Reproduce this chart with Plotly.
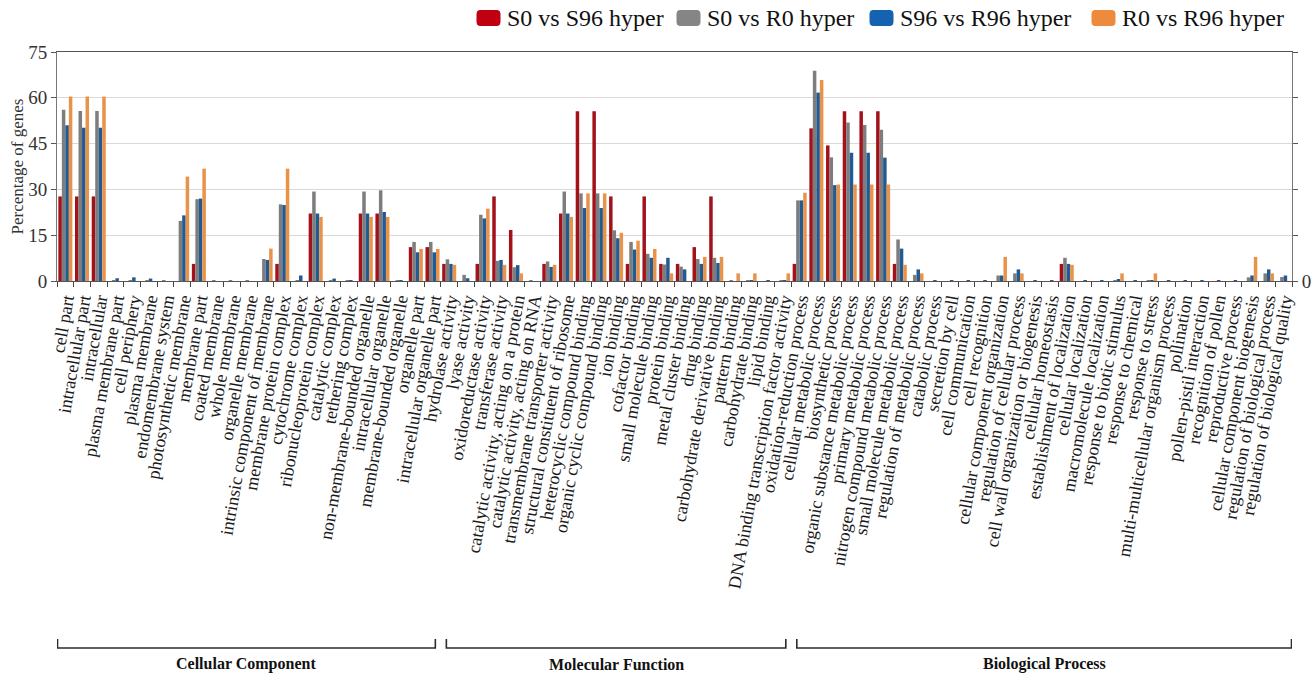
import plotly.graph_objects as go

categories = [
    "cell part", "intracellular part", "intracellular", "plasma membrane part",
    "cell periphery", "plasma membrane", "endomembrane system",
    "photosynthetic membrane", "membrane part", "coated membrane",
    "whole membrane", "organelle membrane", "intrinsic component of membrane",
    "membrane protein complex", "cytochrome complex",
    "ribonucleoprotein complex", "catalytic complex", "tethering complex",
    "non-membrane-bounded organelle", "intracellular organelle",
    "membrane-bounded organelle", "organelle part",
    "intracellular organelle part",
    "hydrolase activity", "lyase activity", "oxidoreductase activity",
    "transferase activity", "catalytic activity, acting on a protein",
    "catalytic activity, acting on RNA", "transmembrane transporter activity",
    "structural constituent of ribosome", "heterocyclic compound binding",
    "organic cyclic compound binding", "ion binding", "cofactor binding",
    "small molecule binding", "protein binding", "metal cluster binding",
    "drug binding", "carbohydrate derivative binding", "pattern binding",
    "carbohydrate binding", "lipid binding",
    "DNA binding transcription factor activity",
    "oxidation-reduction process", "cellular metabolic process",
    "biosynthetic process", "organic substance metabolic process",
    "primary metabolic process", "nitrogen compound metabolic process",
    "small molecule metabolic process", "regulation of metabolic process",
    "catabolic process", "secretion by cell", "cell communication",
    "cell recognition", "cellular component organization",
    "regulation of cellular process", "cell wall organization or biogenesis",
    "cellular homeostasis", "establishment of localization",
    "cellular localization", "macromolecule localization",
    "response to biotic stimulus", "response to chemical",
    "response to stress", "multi-multicellular organism process",
    "pollination", "pollen-pistil interaction", "recognition of pollen",
    "reproductive process", "cellular component biogenesis",
    "regulation of biological process", "regulation of biological quality",
]

s0_vs_s96 = [
    27.7, 27.7, 27.7, 0, 0, 0, 0, 0, 5.6, 0,
    0, 0, 0, 5.6, 0, 22.1, 0, 0, 22.1, 22.1,
    0, 11.1, 11.1,
    5.6, 0, 5.6, 27.7, 16.7, 0, 5.6, 22.1, 55.6, 55.6, 27.7,
    5.6, 27.7, 5.6, 5.6, 11.1, 27.7, 0, 0, 0, 0,
    5.6, 50.0, 44.4, 55.6, 55.6, 55.6, 5.6, 0, 0, 0,
    0, 0, 0, 0, 0, 0, 5.6, 0, 0, 0,
    0, 0, 0, 0, 0, 0, 0, 0, 0, 0,
]
s0_vs_r0 = [
    56.1, 55.7, 55.7, 0.3, 0.3, 0.3, 0.3, 19.7, 26.8, 0.3,
    0.3, 0.3, 7.2, 25.1, 0.3, 29.3, 0.3, 0.3, 29.3, 29.7,
    0.3, 12.8, 12.8,
    7.1, 2.0, 21.7, 6.6, 4.5, 0.3, 6.4, 29.3, 28.7, 28.7, 16.6,
    12.8, 8.9, 5.4, 4.7, 7.2, 7.6, 0.3, 0.3, 0, 0.3,
    26.4, 68.9, 40.5, 51.9, 51.1, 49.5, 13.6, 2.0, 0, 0,
    0, 0, 1.8, 2.5, 0, 0, 7.6, 0, 0, 0.3,
    0, 0.3, 0, 0, 0, 0, 0, 1.2, 2.5, 1.3,
]
s96_vs_r96 = [
    51.0, 50.2, 50.2, 0.9, 1.2, 0.8, 0, 21.5, 27.0, 0,
    0, 0, 6.9, 24.9, 1.8, 22.1, 0.8, 0.3, 22.1, 22.6,
    0.3, 9.4, 9.4,
    5.6, 0.9, 20.5, 6.9, 5.2, 0, 4.6, 22.1, 23.9, 23.9, 14.0,
    10.3, 7.6, 7.6, 3.8, 5.6, 5.9, 0, 0.3, 0.3, 0.3,
    26.4, 61.7, 31.4, 42.0, 42.0, 40.4, 10.6, 3.8, 0.3, 0.3,
    0.3, 0.3, 1.8, 3.8, 0.3, 0.3, 5.6, 0.3, 0.3, 0.5,
    0.3, 0.3, 0.3, 0.3, 0.3, 0.3, 0.3, 1.8, 3.8, 1.8,
]
r0_vs_r96 = [
    60.4, 60.4, 60.4, 0, 0, 0, 0, 34.2, 36.8, 0,
    0, 0, 10.6, 36.8, 0, 21.0, 0, 0, 21.0, 21.0,
    0, 10.5, 10.5,
    5.3, 0, 23.7, 5.3, 2.5, 0, 5.3, 21.0, 28.7, 28.7, 15.8,
    13.2, 10.5, 2.5, 0, 7.9, 7.9, 2.5, 2.5, 0, 2.5,
    28.9, 65.8, 31.6, 31.6, 31.6, 31.6, 5.3, 2.5, 0, 0,
    0, 0, 7.9, 2.5, 0, 0, 5.3, 0, 0, 2.5,
    0, 2.5, 0, 0, 0, 0, 0, 7.9, 2.5, 0,
]

series_names = ["S0 vs S96 hyper", "S0 vs R0 hyper", "S96 vs R96 hyper", "R0 vs R96 hyper"]
series_values = [s0_vs_s96, s0_vs_r0, s96_vs_r96, r0_vs_r96]
bar_colors = ["#a3111a", "#7d7d7d", "#225b92", "#e8924a"]
legend_colors = ["#c00010", "#858585", "#1462b0", "#ee8a3c"]

# GO domains: (label, first index, last index)
groups = [
    ("Cellular Component", 0, 22),
    ("Molecular Function", 23, 43),
    ("Biological Process", 44, 73),
]

y_ticks = [0, 15, 30, 45, 60, 75]
SERIF = "Liberation Serif, Times New Roman, serif"

W, H = 1314, 676
M_L, M_R, M_T, M_B = 57, 22, 52, 395
PW, PH = W - M_L - M_R, H - M_T - M_B


def px_to_paper(px, py):
    return (px - M_L) / PW, (H - M_B - py) / PH


def rounded_rect(x0, y0, x1, y1, r_px=3):
    """Rounded rectangle path in paper coordinates (y0 bottom, y1 top)."""
    rx, ry = r_px / PW, r_px / PH
    return (f"M {x0 + rx},{y0} L {x1 - rx},{y0} Q {x1},{y0} {x1},{y0 + ry} "
            f"L {x1},{y1 - ry} Q {x1},{y1} {x1 - rx},{y1} "
            f"L {x0 + rx},{y1} Q {x0},{y1} {x0},{y1 - ry} "
            f"L {x0},{y0 + ry} Q {x0},{y0} {x0 + rx},{y0} Z")


fig = go.Figure()
for name, vals, col in zip(series_names, series_values, bar_colors):
    fig.add_trace(go.Bar(x=categories, y=vals, name=name, marker_color=col,
                         marker_line_width=0, showlegend=False))

# invisible trace carrying the right-hand axis
fig.add_trace(go.Scatter(x=[categories[0]], y=[0], yaxis="y2", mode="markers",
                         marker_opacity=0, showlegend=False, hoverinfo="skip"))

shapes = []
annotations = []

# brackets and labels for the three GO domains
gap = 0.33
for label, i0, i1 in groups:
    x0 = i0 - 0.5 + (0.03 if i0 == 0 else gap)
    x1 = i1 + 0.5 - (0.03 if i1 == len(categories) - 1 else gap)
    _, y_line = px_to_paper(0, 648)
    _, y_top = px_to_paper(0, 639)
    _, y_lab = px_to_paper(0, 664)
    shapes.append(dict(type="path", xref="x", yref="paper",
                       path=f"M {x0},{y_top} L {x0},{y_line} L {x1},{y_line} L {x1},{y_top}",
                       line=dict(color="#2b2b2b", width=1.6)))
    annotations.append(dict(x=(x0 + x1) / 2, y=y_lab, xref="x", yref="paper",
                            text=f"<b>{label}</b>", showarrow=False,
                            font=dict(family=SERIF, size=16, color="#111"),
                            xanchor="center", yanchor="middle"))

# legend row across the top right
legend_box_x = [477, 677, 870, 1092]
box_w, box_h, legend_y = 23, 15, 18
for name, col, bx in zip(series_names, legend_colors, legend_box_x):
    x0, y0 = px_to_paper(bx, legend_y + box_h / 2)
    x1, y1 = px_to_paper(bx + box_w, legend_y - box_h / 2)
    shapes.append(dict(type="path", xref="paper", yref="paper",
                       path=rounded_rect(x0, y0, x1, y1),
                       fillcolor=col, line=dict(color=col, width=1)))
    tx, ty = px_to_paper(bx + box_w + 5, legend_y)
    annotations.append(dict(x=tx, y=ty, xref="paper", yref="paper", text=name,
                            showarrow=False, xanchor="left", yanchor="middle",
                            font=dict(family=SERIF, size=24, color="#111")))

fig.update_layout(
    width=W, height=H,
    margin=dict(l=M_L, r=M_R, t=M_T, b=M_B, autoexpand=False),
    paper_bgcolor="white", plot_bgcolor="white",
    barmode="group", bargap=0.16, bargroupgap=0,
    font=dict(family=SERIF, color="#222"),
    showlegend=False,
    shapes=shapes, annotations=annotations,
    xaxis=dict(
        type="category", tickmode="linear", tick0=0, dtick=1,
        tickangle=-80, tickson="boundaries",
        ticks="outside", ticklen=5, tickcolor="#444",
        showline=True, linecolor="#555", linewidth=1.2, mirror=True,
        tickfont=dict(family=SERIF, size=18, color="#1a1a1a"),
        showgrid=False, range=[-0.5, len(categories) - 0.5],
    ),
    yaxis=dict(
        range=[0, 75], tickvals=y_ticks, ticks="outside", ticklen=5,
        tickcolor="#555", showline=True, linecolor="#777", linewidth=1,
        gridcolor="#d9d9d9", gridwidth=1,
        tickfont=dict(family=SERIF, size=19, color="#333"),
        title=dict(text="Percentage of genes",
                   font=dict(family=SERIF, size=17, color="#333"), standoff=0),
        zeroline=False,
    ),
    yaxis2=dict(
        overlaying="y", side="right", range=[0, 75], tickvals=y_ticks,
        ticktext=["0", "", "", "", "", ""], ticks="outside", ticklen=5,
        tickcolor="#555", showline=True, linecolor="#777", linewidth=1,
        showgrid=False, zeroline=False,
        tickfont=dict(family=SERIF, size=19, color="#333"),
    ),
)

fig.write_html("out.html")
